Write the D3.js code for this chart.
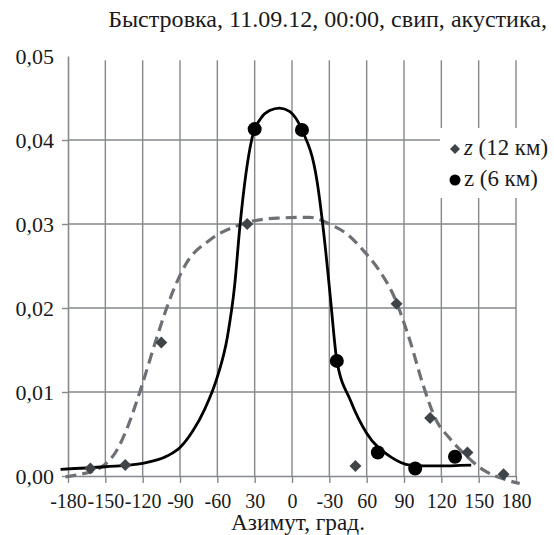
<!DOCTYPE html>
<html><head><meta charset="utf-8">
<script src="https://cdn.jsdelivr.net/npm/d3@7"></script>
<style>body{margin:0;background:#fff}svg{display:block}</style>
</head><body><svg id="c" width="554" height="535"></svg>
<script>
// ---- data ----
const titleText = "Быстровка, 11.09.12, 00:00, свип, акустика,";
const xAxisTitle = "Азимут, град.";
const xTickValues = [-180,-150,-120,-90,-60,-30,0,30,60,90,120,150,180];
const xTickLabels = ["-180","-150","-120","-90","-60","30","0","-30","60","90","120","150","180"];
const yTickValues = [0,0.01,0.02,0.03,0.04,0.05];
const yTickLabels = ["0,00","0,01","0,02","0,03","0,04","0,05"];
const seriesNames = ["z (12 км)","z (6 км)"];
// z (12 km) measured points (diamonds)
const z12X = [-162,-134,-105,-36,51,84,111,141,170];
const z12Y = [0.0009,0.0013,0.0159,0.0300,0.0012,0.0205,0.0069,0.0028,0.0002];
// z (6 km) measured points (circles)
const z6X = [-30,8,36,69,99,131];
const z6Y = [0.0413,0.0412,0.0137,0.0028,0.0009,0.0023];
// fitted curve for z (12 km) (dashed)
const fit12X = [-182,-170,-160,-150,-141,-133,-121,-109,-98,-85,-66,-42,-12,14,30,45,57,70,81,95,105,116,126,138,154,171,183];
const fit12Y = [-0.0001,0.0002,0.0006,0.0014,0.0030,0.0055,0.0106,0.0163,0.0211,0.0253,0.0281,0.0299,0.0307,0.0308,0.0300,0.0287,0.0269,0.0245,0.0217,0.0160,0.0110,0.0066,0.0046,0.0027,0.0007,-0.0004,-0.0009];
// fitted curve for z (6 km) (solid)
const fit6X = [-186,-150,-120,-100,-90,-80,-70,-60,-52,-46,-42,-37,-32,-25,-18,-10,-2,8,20,27,31,36,47,60,79,95,116,144];
const fit6Y = [0.0008,0.0011,0.0015,0.0024,0.0034,0.0053,0.0080,0.0118,0.0165,0.0228,0.0295,0.0360,0.0403,0.0426,0.0435,0.0438,0.0434,0.0412,0.0352,0.0269,0.0210,0.0138,0.0090,0.0051,0.0023,0.0013,0.0012,0.0013];

// ---- drawing ----
const FONT = "Liberation Serif";
const svg = d3.select("#c");
const x = d3.scaleLinear().domain([-180,180]).range([68,516]);
const y = d3.scaleLinear().domain([0,0.05]).range([476,56]);
const gridColor = "#85888c";
const textColor = "#1a1a1a";
function fit(sel, width){ // scale font so text spans the target width
  const n = sel.node(); const fs = parseFloat(sel.attr("font-size"));
  sel.attr("font-size", (fs*width/n.getComputedTextLength()).toFixed(2));
  return sel;
}

// gridlines
svg.append("g").selectAll("line").data(xTickValues.slice(1)).join("line")
  .attr("x1",d=>x(d)).attr("x2",d=>x(d)).attr("y1",y(0.0495)).attr("y2",y(0))
  .attr("stroke",gridColor).attr("stroke-width",1.4);
svg.append("g").selectAll("line").data(yTickValues.slice(1,5)).join("line")
  .attr("x1",x(-180)).attr("x2",x(180)).attr("y1",d=>y(d)).attr("y2",d=>y(d))
  .attr("stroke",gridColor).attr("stroke-width",1.4);

// axes
const xAxis = d3.axisBottom(x).tickValues(xTickValues).tickSize(7).tickSizeOuter(0)
  .tickFormat((d,i)=>xTickLabels[i]);
const gx = svg.append("g").attr("transform",`translate(0,${y(0)})`).call(xAxis);
gx.select(".domain").attr("stroke",gridColor).attr("stroke-width",1.6);
gx.selectAll(".tick line").attr("stroke",gridColor).attr("stroke-width",1.4);
gx.selectAll(".tick text").attr("font-size",20).attr("dy",null).attr("y",32)
  .style("font-family",FONT).attr("fill",textColor);

const yAxis = d3.axisLeft(y).tickValues(yTickValues).tickSize(6).tickSizeOuter(0)
  .tickFormat((d,i)=>yTickLabels[i]);
const gy = svg.append("g").attr("transform",`translate(${x(-180)},0)`).call(yAxis);
gy.select(".domain").attr("stroke",gridColor).attr("stroke-width",1.6);
gy.selectAll(".tick line").attr("stroke",gridColor).attr("stroke-width",1.4)
  .filter(d=>d===0.05).remove();
gy.selectAll(".tick text").attr("font-size",22).attr("x",-14).attr("dy","0.33em")
  .style("font-family",FONT).attr("fill",textColor);

// curves
const line = d3.line().x(d=>x(d[0])).y(d=>y(d[1])).curve(d3.curveMonotoneX);
svg.append("path").datum(fit12X.map((v,i)=>[v,fit12Y[i]])).attr("d",line)
  .attr("fill","none").attr("stroke","#6d7074").attr("stroke-width",3.2)
  .attr("stroke-dasharray","11,6");
svg.append("path").datum(fit6X.map((v,i)=>[v,fit6Y[i]])).attr("d",line)
  .attr("fill","none").attr("stroke","#000").attr("stroke-width",2.8);

// markers
const diamond = d3.symbol().type(d3.symbolSquare).size(72);
svg.append("g").selectAll("path").data(z12X.map((v,i)=>[v,z12Y[i]])).join("path")
  .attr("d",diamond).attr("transform",d=>`translate(${x(d[0])},${y(d[1])}) rotate(45)`)
  .attr("fill","#3f4448");
svg.append("g").selectAll("circle").data(z6X.map((v,i)=>[v,z6Y[i]])).join("circle")
  .attr("cx",d=>x(d[0])).attr("cy",d=>y(d[1])).attr("r",7).attr("fill","#000");

// legend
const lg = svg.append("g").attr("transform","translate(440,128)");
lg.append("rect").attr("width",114).attr("height",70).attr("fill","#fff");
lg.append("path").attr("d",d3.symbol().type(d3.symbolSquare).size(50)())
  .attr("transform","translate(15,21) rotate(45)").attr("fill","#3f4448");
lg.append("circle").attr("cx",15).attr("cy",52).attr("r",5.5).attr("fill","#000");
const t1 = lg.append("text").attr("x",24).attr("y",27).attr("font-size",20)
  .style("font-family",FONT).attr("fill",textColor);
t1.append("tspan").attr("font-style","italic").text(seriesNames[0].slice(0,1));
t1.append("tspan").text(seriesNames[0].slice(1));
fit(t1, 84);
const t2 = lg.append("text").attr("x",24).attr("y",58).attr("font-size",20)
  .style("font-family",FONT).attr("fill",textColor).text(seriesNames[1]);
t2.attr("font-size", t1.attr("font-size"));

// titles
const tt = svg.append("text").attr("x",547).attr("y",27).attr("text-anchor","end").attr("font-size",20)
  .style("font-family",FONT).attr("fill",textColor).text(titleText);
fit(tt, 439);
const at = svg.append("text").attr("x",298).attr("y",530).attr("text-anchor","middle").attr("font-size",20)
  .style("font-family",FONT).attr("fill",textColor).text(xAxisTitle);
fit(at, 134);
</script></body></html>
